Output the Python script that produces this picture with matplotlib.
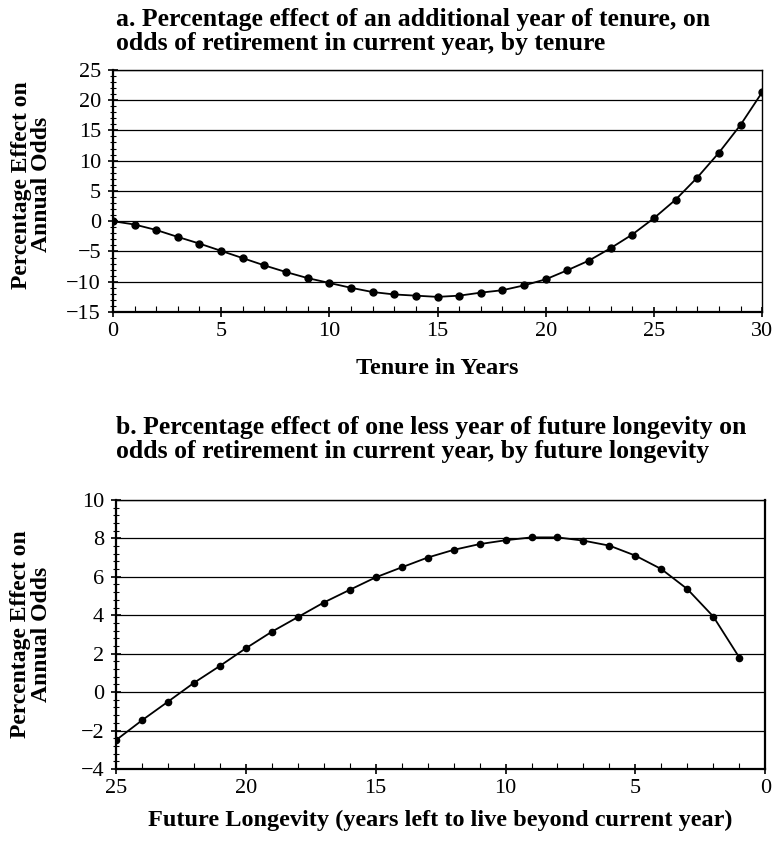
import numpy as np
import matplotlib
matplotlib.use('Agg')
import matplotlib.pyplot as plt
from matplotlib.ticker import MultipleLocator

# Panel a: effect of an additional year of tenure
tenure = list(range(0, 31))
tenureEffect = [0.0, -0.55, -1.45, -2.6, -3.7, -4.9, -6.1, -7.3, -8.4, -9.4,
                -10.2, -11.0, -11.7, -12.1, -12.3, -12.5, -12.3, -11.8, -11.4, -10.6,
                -9.6, -8.1, -6.5, -4.45, -2.2, 0.5, 3.55, 7.2, 11.3, 15.9, 21.3]

# Panel b: effect of one less year of future longevity
longevity = list(range(25, 0, -1))
longevityEffect = [-2.5, -1.47, -0.5, 0.48, 1.36, 2.28, 3.14, 3.9, 4.66, 5.32,
                   5.97, 6.49, 7.0, 7.4, 7.7, 7.9, 8.05, 8.05, 7.88, 7.62,
                   7.1, 6.4, 5.36, 3.93, 1.8]

titleA = 'a. Percentage effect of an additional year of tenure, on\nodds of retirement in current year, by tenure'
titleB = 'b. Percentage effect of one less year of future longevity on\nodds of retirement in current year, by future longevity'
yLabel = 'Percentage Effect on\nAnnual Odds'

plt.rcParams['font.family'] = ['Liberation Serif', 'DejaVu Serif']
plt.rcParams['font.size'] = 15

fig = plt.figure(figsize=(7.73, 8.41), dpi=100)
axA = fig.add_axes([0.146, 0.629, 0.840, 0.288])
axB = fig.add_axes([0.150, 0.0856, 0.840, 0.320])


def styleAxis(ax, yMinor, labelX, labelY):
    # horizontal gridlines at the major y ticks
    ax.grid(axis='y', color='black', linewidth=0.9)
    ax.set_axisbelow(True)
    ax.yaxis.set_minor_locator(MultipleLocator(yMinor))
    ax.xaxis.set_major_locator(MultipleLocator(5))
    ax.xaxis.set_minor_locator(MultipleLocator(1))
    ax.tick_params(axis='y', which='major', direction='inout', length=7, width=1.2, pad=5,
                   labelsize=16)
    ax.tick_params(axis='y', which='minor', direction='inout', length=4, width=0.8)
    ax.tick_params(axis='x', which='major', direction='inout', length=7, width=1.2, pad=4,
                   labelsize=16)
    ax.tick_params(axis='x', which='minor', direction='in', length=4, width=0.8)
    for side in ['left', 'bottom']:
        ax.spines[side].set_linewidth(1.6)
    for side in ['top', 'right']:
        ax.spines[side].set_linewidth(1.0)
    ax.set_ylabel(yLabel, fontweight='bold', fontsize=17, linespacing=0.95)
    ax.yaxis.set_label_coords(labelX, labelY)


# Panel a
axA.plot(tenure, tenureEffect, color='black', linewidth=1.3,
         marker='o', markersize=5, zorder=3)
axA.set_xlim(0, 30)
axA.set_ylim(-15, 25)
axA.yaxis.set_major_locator(MultipleLocator(5))
styleAxis(axA, 1, -0.094, 0.525)
axA.set_xlabel('Tenure in Years', fontweight='bold', fontsize=17.5, labelpad=12)
axA.set_title(titleA, loc='left', fontweight='bold', fontsize=18.5,
              linespacing=1.08, pad=14, x=0.005)

# Panel b
axB.plot(longevity, longevityEffect, color='black', linewidth=1.3,
         marker='o', markersize=4.5, zorder=3)
axB.set_xlim(25, 0)
axB.set_ylim(-4, 10)
axB.yaxis.set_major_locator(MultipleLocator(2))
styleAxis(axB, 0.4, -0.099, 0.5)
axB.spines['right'].set_linewidth(1.6)
axB.set_xlabel('Future Longevity (years left to live beyond current year)',
               fontweight='bold', fontsize=17.5, labelpad=8)
axB.set_title(titleB, loc='left', fontweight='bold', fontsize=18.5,
              linespacing=1.08, pad=30, x=0.0)

fig.savefig('out.png', dpi=100)
